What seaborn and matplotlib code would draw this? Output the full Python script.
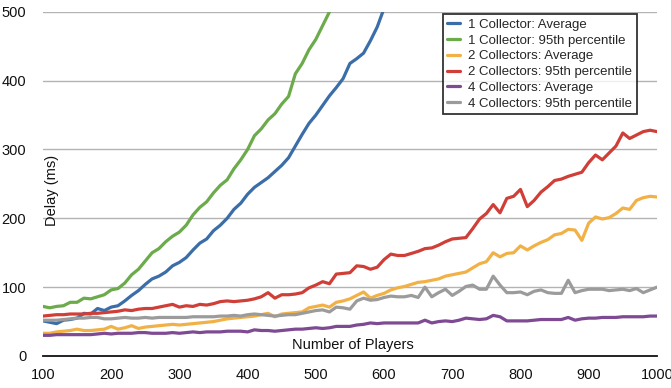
import numpy as np
import pandas as pd
import matplotlib
matplotlib.use("Agg")
import matplotlib.pyplot as plt
import seaborn as sns

# Delay measurements (ms), sampled every 10 players starting at 100
START, STEP = 100, 10

one_avg = [51, 49, 47, 52, 53, 55, 62, 61, 69, 66,
           71, 73, 80, 88, 95, 104, 112, 116, 122, 131,
           136, 143, 154, 164, 170, 182, 190, 200, 213, 222,
           235, 245, 252, 259, 268, 277, 288, 305, 322, 338,
           350, 364, 378, 390, 403, 425, 432, 440, 458, 478,
           505]

one_p95 = [72, 70, 72, 73, 78, 78, 84, 83, 86, 89,
           96, 98, 106, 118, 126, 138, 150, 156, 166, 174,
           180, 190, 205, 216, 224, 237, 248, 256, 272, 285,
           300, 320, 330, 343, 352, 366, 377, 410, 425, 445,
           460, 480, 500, 515]

two_avg = [33, 33, 35, 36, 37, 39, 37, 37, 38, 39,
           43, 39, 41, 44, 40, 42, 43, 44, 45, 46,
           45, 46, 47, 48, 49, 50, 52, 54, 55, 56,
           57, 58, 60, 62, 57, 61, 62, 63, 64, 70,
           72, 74, 71, 78, 80, 83, 88, 93, 84, 88,
           91, 96, 99, 101, 104, 107, 108, 110, 112, 116,
           118, 120, 122, 128, 134, 137, 150, 144, 149, 150,
           160, 154, 160, 165, 169, 176, 178, 184, 183, 168,
           193, 202, 199, 201, 207, 215, 213, 226, 230, 232,
           231]

two_p95 = [58, 59, 60, 60, 61, 61, 61, 62, 62, 63,
           64, 65, 67, 66, 68, 69, 69, 71, 73, 75,
           71, 73, 72, 75, 74, 76, 79, 80, 79, 80,
           81, 83, 86, 92, 84, 89, 89, 90, 92, 99,
           103, 108, 105, 119, 120, 121, 131, 130, 126, 129,
           140, 148, 146, 146, 149, 152, 156, 157, 161, 166,
           170, 171, 172, 185, 199, 207, 220, 208, 229, 232,
           242, 217, 226, 238, 246, 255, 257, 261, 264, 267,
           281, 292, 285, 295, 305, 324, 316, 321, 326, 328,
           326]

four_avg = [30, 30, 31, 31, 31, 31, 31, 31, 32, 33,
            32, 33, 33, 33, 34, 34, 33, 33, 33, 34,
            33, 34, 35, 34, 35, 35, 35, 36, 36, 36,
            35, 38, 37, 37, 36, 37, 38, 39, 39, 40,
            41, 40, 41, 43, 43, 43, 45, 46, 48, 47,
            48, 48, 48, 48, 48, 48, 52, 48, 50, 51,
            50, 52, 55, 54, 53, 54, 59, 57, 51, 51,
            51, 51, 52, 53, 53, 53, 53, 56, 52, 54,
            55, 55, 56, 56, 56, 57, 57, 57, 57, 58,
            58]

four_p95 = [52, 52, 52, 53, 54, 55, 55, 56, 56, 54,
            54, 55, 56, 55, 55, 56, 55, 56, 56, 56,
            56, 56, 57, 57, 57, 57, 58, 58, 59, 58,
            60, 61, 60, 59, 58, 59, 60, 60, 62, 64,
            66, 67, 64, 71, 70, 68, 80, 84, 81, 82,
            85, 87, 86, 86, 88, 85, 100, 86, 92, 97,
            88, 94, 101, 103, 97, 97, 116, 103, 92, 92,
            93, 89, 94, 96, 92, 91, 91, 110, 92, 95,
            97, 97, 97, 95, 96, 97, 95, 98, 92, 96,
            100]

labels = ["1 Collector: Average", "1 Collector: 95th percentile",
          "2 Collectors: Average", "2 Collectors: 95th percentile",
          "4 Collectors: Average", "4 Collectors: 95th percentile"]
series = [one_avg, one_p95, two_avg, two_p95, four_avg, four_p95]
colors = ["#3b6ea8", "#6cab4c", "#f2b146", "#cf3f38", "#7d4a93", "#9b9b9b"]

x_ticks = [100, 200, 300, 400, 500, 600, 700, 800, 900, 1000]
y_ticks = [0, 100, 200, 300, 400, 500]

frames = []
for name, vals in zip(labels, series):
    players = np.arange(START, START + STEP * len(vals), STEP)
    frames.append(pd.DataFrame({"Players": players, "Delay": vals, "Series": name}))
df = pd.concat(frames, ignore_index=True)

sns.set_style("white")
plt.rcParams["font.family"] = ["Liberation Sans", "DejaVu Sans"]

fig = plt.figure(figsize=(6.71, 3.88), dpi=100)
ax = fig.add_axes([0.064, 0.0825, 0.915, 0.887])

sns.lineplot(data=df, x="Players", y="Delay", hue="Series", hue_order=labels,
             palette=dict(zip(labels, colors)), linewidth=2.3, ax=ax,
             sort=False, estimator=None, zorder=3)

ax.set_xlim(100, 1000)
ax.set_ylim(0, 500)
ax.set_xticks(x_ticks)
ax.set_yticks(y_ticks)
ax.tick_params(axis="both", length=0, labelsize=10.5, colors="#111111")
ax.tick_params(axis="x", pad=9)
ax.tick_params(axis="y", pad=12)

for v in y_ticks[1:]:
    ax.axhline(v, color="#b3b3b3", linewidth=1.0, zorder=1)

for s in ["top", "right", "left"]:
    ax.spines[s].set_visible(False)
ax.spines["bottom"].set_color("#111111")
ax.spines["bottom"].set_linewidth(1.3)
ax.spines["bottom"].set_zorder(4)

ax.set_xlabel("")
ax.set_ylabel("")
ax.text(0.015, 0.48, "Delay (ms)", transform=ax.transAxes, rotation=90,
        ha="center", va="center", fontsize=10.5, color="#111111")
ax.text(0.505, 0.032, "Number of Players", transform=ax.transAxes,
        ha="center", va="center", fontsize=10.5, color="#111111")

leg = ax.legend(loc="upper left", bbox_to_anchor=(0.651, 0.994), fontsize=9.5,
                frameon=True, fancybox=False, handlelength=1.0, handletextpad=0.6,
                labelspacing=0.27, borderpad=0.35, borderaxespad=0.0)
leg.get_frame().set_edgecolor("#000000")
leg.get_frame().set_linewidth(1.3)
leg.set_zorder(5)
for h in leg.get_lines():
    h.set_linewidth(2.3)

fig.savefig("out.png", dpi=100)
